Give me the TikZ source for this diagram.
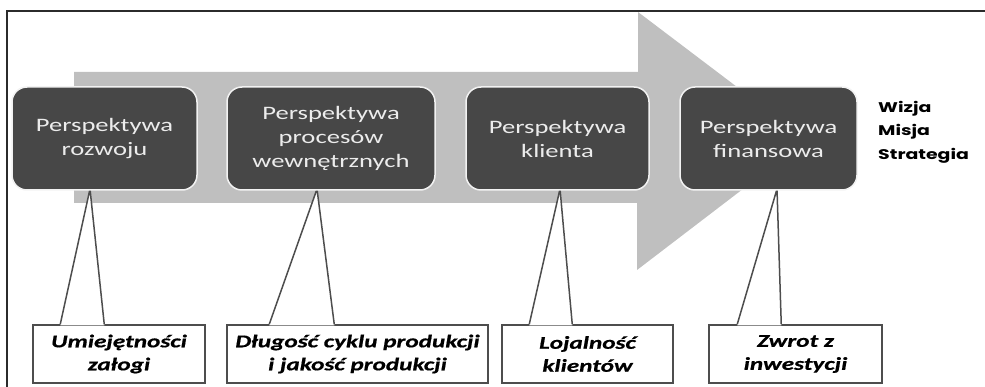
\documentclass[tikz,border=0pt]{standalone}
\usepackage{fontspec}
\usetikzlibrary{calc}
\newfontfamily\boxfont[FakeStretch=1.4]{Carlito}
\newfontfamily\callfont[FakeStretch=1.4,FakeBold=0.6]{Carlito}
\newfontfamily\wizfont[FakeStretch=1.35]{Poppins}
\definecolor{arrowgray}{HTML}{BFBFBF}
\definecolor{boxfill}{HTML}{474747}
\definecolor{boxtext}{HTML}{ECECEC}
\definecolor{boxrim}{HTML}{F2F2F2}
\definecolor{callline}{HTML}{4D4D4D}
\definecolor{framecol}{HTML}{2B2B2B}
\tikzset{
  persp/.style={fill=boxfill, draw=boxrim, line width=1.5pt, rounded corners=15pt,
    minimum height=103pt, inner sep=0pt, align=center, text=boxtext,
    font=\boxfont\fontsize{19}{24}\selectfont},
  callout/.style={draw=callline, fill=white, line width=1.5pt,
    minimum height=58pt, inner sep=0pt, align=center, text=black,
    font=\callfont\bfseries\itshape\fontsize{18}{23}\selectfont},
  pointerfill/.style={fill=white},
  pointerline/.style={draw=callline, line width=1.5pt, line join=miter},
  wiz/.style={align=left, anchor=west, inner sep=0pt, text=black,
    font=\wizfont\bfseries\fontsize{14}{23.5}\selectfont}
}
\newcommand{\pointer}[4]{% node, left offset, right offset, apex
  \fill[pointerfill] ($(#1.north west)+(#2,0)$) -- (#4) -- ($(#1.north west)+(#3,0)$)
    -- ($(#1.north west)+(#3,1.2)$) -- ($(#1.north west)+(#2,1.2)$) -- cycle;
  \draw[pointerline] ($(#1.north west)+(#2,0)$) -- (#4) -- ($(#1.north west)+(#3,0)$);
}
\begin{document}
\begin{tikzpicture}[x=1pt,y=-1pt]
\useasboundingbox (0,0) rectangle (985,387);
% frame
\draw[framecol, line width=2pt] (986,11) -- (7,11) -- (7,388);
% big arrow
\fill[arrowgray] (74,72) -- (638,72) -- (638,12) -- (807,140) -- (637,270)
  -- (637,203) -- (74,203) -- cycle;
% callouts
\node[callout, minimum width=172pt] (c1) at (119,354) {Umiejętności\\załogi};
\node[callout, minimum width=261pt] (c2) at (357.5,354) {Długość cyklu produkcji\\i jakość produkcji};
\node[callout, minimum width=171pt] (c3) at (587.5,354) {Lojalność\\klientów};
\node[callout, minimum width=173pt] (c4) at (795.5,354) {Zwrot z\\inwestycji};
% apex points
\coordinate (a1) at (90,189);
\coordinate (a2) at (317,189);
\coordinate (a3) at (560,189);
\coordinate (a4) at (777,189);
\pointer{c1}{28}{72}{a1}
\pointer{c2}{43}{108}{a2}
\pointer{c3}{28}{71}{a3}
\pointer{c4}{29}{73}{a4}
% perspective boxes
\node[persp, minimum width=185pt] (b1) at (104.5,138.5) {Perspektywa\\rozwoju};
\node[persp, minimum width=208pt] (b2) at (331,138.5) {Perspektywa\\procesów\\wewnętrznych};
\node[persp, minimum width=183pt] (b3) at (557.5,138.5) {Perspektywa\\klienta};
\node[persp, minimum width=177pt] (b4) at (768.5,138.5) {Perspektywa\\finansowa};
% right text
\node[wiz] (wiz) at (878,132) {Wizja\\Misja\\Strategia};
\end{tikzpicture}
\end{document}
